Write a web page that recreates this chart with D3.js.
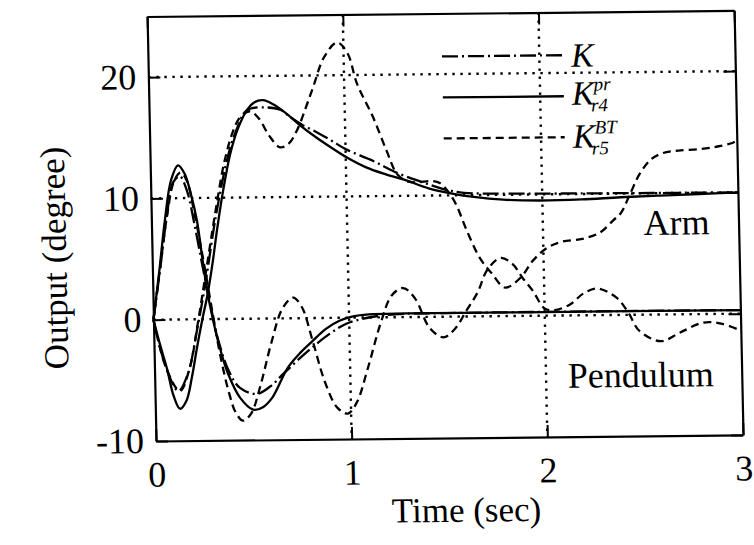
<!DOCTYPE html>
<meta charset="utf-8">
<script src="https://d3js.org/d3.v7.min.js"></script>
<style>
  body { margin: 0; background: #fff; }
  text { font-family: "Liberation Serif", "Times New Roman", serif; fill: #000; }
</style>
<div id="base"></div>
<script>
// tick values
var timeTicks = [0, 1, 2, 3];
var degTicks = [-10, 0, 10, 20];
var gridTime = [1, 2];
var gridDeg = [0, 10, 20];

// arm responses [time (sec), output (degree)]
var armK = [[0,0],[0.06,-4],[0.12,-5.9],[0.17,-4.5],[0.22,-1],[0.27,3],[0.33,8.5],[0.4,13.5],[0.45,15.8],
  [0.5,17.2],[0.6,17.4],[0.67,17.2],[0.72,16.6],[0.78,15.95],[0.856,15.3],[0.93,14.6],[1.0,13.9],[1.14,12.9],
  [1.26,11.9],[1.39,11.1],[1.5,10.5],[1.6,10.2],[1.8,10.1],[2.2,10.05],[3.0,10.0]];
var armKpr = [[0,0],[0.03,-2],[0.064,-4.05],[0.095,-6.3],[0.126,-7.36],[0.16,-6.7],[0.19,-4.8],[0.22,-2.3],
  [0.25,0],[0.28,2.1],[0.31,4.8],[0.334,7.3],[0.37,10.6],[0.41,13.6],[0.45,15.6],[0.5,17.2],[0.54,17.85],
  [0.584,18.0],[0.63,17.7],[0.7,16.9],[0.77,15.9],[0.85,14.9],[0.93,14.0],[1.006,13.2],[1.1,12.4],[1.2,11.8],
  [1.31,11.25],[1.42,10.6],[1.54,10.15],[1.65,9.85],[1.8,9.6],[1.99,9.5],[2.2,9.55],[2.4,9.7],[2.6,9.8],
  [2.8,9.9],[3.0,10.0]];
var armKbt = [[0,0],[0.06,-4],[0.128,-5.9],[0.18,-4],[0.23,0],[0.28,4.5],[0.33,9],[0.38,13],[0.43,15.6],
  [0.464,16.6],[0.516,17.1],[0.56,16.5],[0.61,15.1],[0.665,14.1],[0.71,14.4],[0.754,15.5],[0.8,17.3],[0.84,19.0],
  [0.9,21.5],[0.968,22.7],[1.02,21.8],[1.065,19.3],[1.144,16.5],[1.21,13.7],[1.26,11.8],[1.31,11.2],[1.36,11.1],
  [1.44,11.2],[1.48,11.0],[1.52,10.3],[1.56,9.2],[1.61,7.1],[1.675,4.8],[1.735,3.5],[1.8,2.35],[1.88,3.15],
  [1.945,4.55],[2.02,5.6],[2.1,6.1],[2.2,6.3],[2.29,6.8],[2.36,7.8],[2.4,8.4],[2.45,10.0],[2.5,11.6],
  [2.56,12.8],[2.62,13.3],[2.7,13.5],[2.81,13.6],[2.9,13.8],[2.98,14.1],[3.0,14.3]];

// pendulum responses
var penK = [[0,0],[0.04,4.2],[0.08,8.6],[0.115,11.3],[0.15,11.8],[0.185,10.6],[0.22,7.8],[0.255,4.5],
  [0.29,1.4],[0.33,-1.8],[0.38,-4.3],[0.435,-5.7],[0.52,-6.2],[0.59,-5.6],[0.656,-4.6],[0.73,-3.5],
  [0.81,-2.4],[0.9,-1.3],[0.985,-0.5],[1.1,0],[1.25,0.25],[1.5,0.3],[3.0,0.3]];
var penKpr = [[0,0],[0.035,4],[0.07,8.3],[0.105,11.5],[0.142,12.7],[0.175,12],[0.205,10.3],[0.233,8.1],
  [0.255,5.2],[0.28,2.1],[0.31,-0.5],[0.34,-2.6],[0.375,-4.5],[0.434,-6.5],[0.5,-7.5],[0.55,-7.3],[0.6,-6.5],
  [0.68,-4.1],[0.75,-2.8],[0.81,-1.9],[0.88,-0.9],[0.95,-0.24],[1.02,0.1],[1.1,0.25],[1.3,0.3],[2.0,0.3],[3.0,0.3]];
var penKbt = [[0,0],[0.04,4.3],[0.08,8.5],[0.12,11.4],[0.155,12.1],[0.186,11.4],[0.22,8.8],[0.26,5],[0.3,0.8],
  [0.34,-3.2],[0.38,-6.2],[0.41,-7.7],[0.447,-8.4],[0.49,-7.8],[0.54,-5.5],[0.6,-2],[0.66,0.8],[0.716,1.7],
  [0.76,0.9],[0.81,-1.8],[0.87,-5.3],[0.93,-7.4],[0.984,-7.9],[1.03,-7],[1.09,-4.2],[1.16,-0.5],[1.22,1.8],
  [1.28,2.4],[1.34,1.5],[1.41,-0.9],[1.48,-1.7],[1.54,-1.0],[1.6,0.48],[1.66,2.0],[1.71,3.8],[1.78,4.8],
  [1.84,4.3],[1.89,3.15],[1.94,2.1],[2.0,0.6],[2.05,0.45],[2.13,0.9],[2.2,1.8],[2.27,2.2],[2.37,1.4],
  [2.43,0.1],[2.48,-1.3],[2.59,-2.2],[2.69,-1.5],[2.81,-0.7],[2.9,-0.8],[3.0,-1.4]];

var legendNames = ["K", "K", "K"];
var legendSup = ["", "pr", "BT"];
var legendSub = ["", "r4", "r5"];

var width = 754, height = 545;
var plotLeft = 156, plotRight = 743, plotTop = 16.5, plotBottom = 441;

var x = d3.scaleLinear().domain([0, 3]).range([plotLeft, plotRight]);
var y = d3.scaleLinear().domain([-10, 25]).range([plotBottom, plotTop]);

var dashDot = "16,4,2,4", dashed = "8,5";

var svg = d3.select("#base")
    .append("svg")
    .attr("width", width)
    .attr("height", height);

// the scanned figure is slightly skewed
var g = svg.append("g")
    .attr("transform", "matrix(1,-0.0103,0.021,1," + (-0.021 * 441) + "," + (0.0103 * 156) + ")");

// dotted grid
g.selectAll(".vgrid").data(gridTime).enter().append("line")
    .attr("x1", function (d) { return x(d); }).attr("x2", function (d) { return x(d); })
    .attr("y1", y(25)).attr("y2", y(-10))
    .attr("stroke", "#000").attr("stroke-width", 2.4).attr("stroke-dasharray", "2.4,5.6");
g.selectAll(".hgrid").data(gridDeg).enter().append("line")
    .attr("x1", x(0)).attr("x2", x(3))
    .attr("y1", function (d) { return y(d); }).attr("y2", function (d) { return y(d); })
    .attr("stroke", "#000").attr("stroke-width", 2.4).attr("stroke-dasharray", "2.4,5.6");

// axes, ticks pointing inward on all four sides
function styleAxis(sel) {
    sel.attr("font-size", 36).attr("font-family", "Liberation Serif, serif");
    sel.select(".domain").attr("stroke-width", 2.2);
    sel.selectAll(".tick line").attr("stroke-width", 2);
}
function plain(d) { return String(d); }
g.append("g").attr("transform", "translate(0," + plotBottom + ")")
    .call(d3.axisBottom(x).tickValues(timeTicks).tickSize(-12).tickSizeOuter(0).tickPadding(20).tickFormat(plain))
    .call(styleAxis);
g.append("g").attr("transform", "translate(0," + plotTop + ")")
    .call(d3.axisTop(x).tickValues(timeTicks).tickSize(-12).tickSizeOuter(0).tickFormat(""))
    .call(styleAxis);
g.append("g").attr("transform", "translate(" + plotLeft + ",0)")
    .call(d3.axisLeft(y).tickValues(degTicks).tickSize(-12).tickSizeOuter(0).tickPadding(12).tickFormat(plain))
    .call(styleAxis);
g.append("g").attr("transform", "translate(" + plotRight + ",0)")
    .call(d3.axisRight(y).tickValues(degTicks).tickSize(-12).tickSizeOuter(0).tickFormat(""))
    .call(styleAxis);
g.selectAll(".tick text").style("fill", "#000");

// curves
var line = d3.line()
    .x(function (d) { return x(d[0]); })
    .y(function (d) { return y(d[1]); })
    .curve(d3.curveCatmullRom.alpha(0.5));

var series = [
    { data: armK, dash: dashDot }, { data: penK, dash: dashDot },
    { data: armKbt, dash: dashed }, { data: penKbt, dash: dashed },
    { data: armKpr, dash: null }, { data: penKpr, dash: null }
];
series.forEach(function (s) {
    g.append("path")
        .attr("d", line(s.data))
        .attr("fill", "none")
        .attr("stroke", "#000")
        .attr("stroke-width", 2.3)
        .attr("stroke-dasharray", s.dash);
});

// legend
var legendY = [59.5, 100.5, 141.5];
var legendBase = [71, 109, 152];
var legendDash = [dashDot, null, dashed];
legendNames.forEach(function (name, i) {
    g.append("line")
        .attr("x1", 450).attr("x2", 571)
        .attr("y1", legendY[i]).attr("y2", legendY[i])
        .attr("stroke", "#000").attr("stroke-width", 2.3)
        .attr("stroke-dasharray", legendDash[i]);
    g.append("text")
        .attr("x", 579).attr("y", legendBase[i])
        .attr("font-size", 34).attr("font-style", "italic")
        .text(name);
    if (legendSup[i]) {
        g.append("text")
            .attr("x", 601).attr("y", legendBase[i] - 14)
            .attr("font-size", 19).attr("font-style", "italic")
            .text(legendSup[i]);
        g.append("text")
            .attr("x", 598).attr("y", legendBase[i] + 7)
            .attr("font-size", 19).attr("font-style", "italic")
            .text(legendSub[i]);
    }
});

// curve group labels
g.append("text").attr("x", 648).attr("y", 240).attr("font-size", 36).text("Arm");
g.append("text").attr("x", 569).attr("y", 392).attr("font-size", 36).text("Pendulum");

// axis titles
g.append("text")
    .attr("x", 465).attr("y", 525)
    .attr("text-anchor", "middle")
    .attr("font-size", 35)
    .text("Time (sec)");
g.append("text")
    .attr("transform", "translate(70,257) rotate(-90)")
    .attr("text-anchor", "middle")
    .attr("font-size", 35)
    .text("Output (degree)");
</script>
